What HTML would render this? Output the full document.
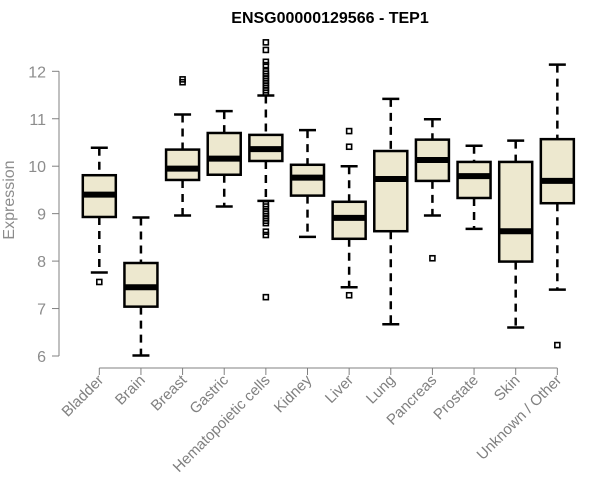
<!DOCTYPE html>
<html><head><meta charset="utf-8"><style>
body{margin:0;background:#fff;width:600px;height:500px;overflow:hidden}
svg{display:block;font-family:"Liberation Sans",Arial,sans-serif}
</style></head><body>
<svg id="chart" width="600" height="500" viewBox="0 0 600 500">
<text x="330" y="23" text-anchor="middle" font-weight="bold" font-size="16">ENSG00000129566 - TEP1</text>
<text transform="translate(14,200) rotate(-90)" text-anchor="middle" font-size="16" fill="#8c8c8c">Expression</text>
<g id="axes"></g><g id="boxes"></g>
</svg>
<script>
const categories=["Bladder","Brain","Breast","Gastric","Hematopoietic cells","Kidney","Liver","Lung","Pancreas","Prostate","Skin","Unknown / Other"];
const whiskerLow=[7.76,6.01,8.96,9.15,9.27,8.51,7.45,6.67,8.96,8.68,6.60,7.40];
const q1=[8.93,7.04,9.71,9.82,10.11,9.38,8.47,8.63,9.69,9.33,7.99,9.22];
const medians=[9.40,7.45,9.95,10.16,10.36,9.76,8.91,9.73,10.13,9.79,8.63,9.69];
const q3=[9.81,7.96,10.35,10.70,10.66,10.03,9.25,10.32,10.56,10.09,10.09,10.57];
const whiskerHigh=[10.39,8.92,11.09,11.16,11.49,10.76,10.00,11.42,10.99,10.43,10.54,12.14];
const outliers=[[7.56],[],[11.83,11.77],[],[12.61,12.45,12.2,12.13,12.0,11.95,11.9,11.85,11.8,11.75,11.7,11.65,11.6,11.55,9.2,9.15,9.05,9.0,8.95,8.9,8.85,8.8,8.62,8.55,7.24],[],[10.74,10.41,7.28],[],[8.06],[],[],[6.23]];
const yTicks=[6,7,8,9,10,11,12];
const NS="http://www.w3.org/2000/svg";
const yS=v=>356-(v-6)*47.45;
const xS=i=>99.3+i*41.64;
function mk(tag,at,parent){const e=document.createElementNS(NS,tag);for(const k in at)e.setAttribute(k,at[k]);parent.appendChild(e);return e;}
const ax=document.getElementById('axes'),bx=document.getElementById('boxes');
const ya=mk('line',{x1:59,x2:59,y1:yS(12),y2:yS(6),stroke:'#808080'},ax);


yTicks.forEach(t=>{
 const l=mk('line',{x1:52,x2:59,y1:yS(t),y2:yS(t),stroke:'#808080'},ax);
 
 
 const tx=mk('text',{x:46,y:yS(t)+6,'text-anchor':'end','font-size':16,fill:'#8c8c8c'},ax);
 tx.textContent=t;
 
 
});
const xa=mk('line',{x1:xS(0),x2:xS(categories.length-1),y1:368,y2:368,stroke:'#808080'},ax);


categories.forEach((c,i)=>{
 const x=xS(i);
 const t=mk('line',{x1:x,x2:x,y1:368,y2:375,stroke:'#808080'},ax);
 
 
 const tx=mk('text',{transform:`translate(${x+5},381) rotate(-45)`,'text-anchor':'end','font-size':15,fill:'#808080'},ax);
 tx.textContent=c;
 
 
 const g=mk('g',{},bx);
 
 
 mk('line',{x1:x,x2:x,y1:yS(whiskerHigh[i]),y2:yS(q3[i]),stroke:'#000','stroke-width':2.5,'stroke-dasharray':'8,6'},g);
 mk('line',{x1:x,x2:x,y1:yS(q1[i]),y2:yS(whiskerLow[i]),stroke:'#000','stroke-width':2.5,'stroke-dasharray':'8,6'},g);
 mk('line',{x1:x-8.5,x2:x+8.5,y1:yS(whiskerHigh[i]),y2:yS(whiskerHigh[i]),stroke:'#000','stroke-width':2.5},g);
 mk('line',{x1:x-8.5,x2:x+8.5,y1:yS(whiskerLow[i]),y2:yS(whiskerLow[i]),stroke:'#000','stroke-width':2.5},g);
 mk('rect',{x:x-16.5,y:yS(q3[i]),width:33,height:yS(q1[i])-yS(q3[i]),fill:'#ede8cf',stroke:'#000','stroke-width':2.5},g);
 mk('line',{x1:x-16.5,x2:x+16.5,y1:yS(medians[i]),y2:yS(medians[i]),stroke:'#000','stroke-width':6},g);
 outliers[i].forEach(v=>{mk('rect',{x:x-2.5,y:yS(v)-2.5,width:5,height:5,fill:'none',stroke:'#000','stroke-width':1.6},g);});
});
</script>
</body></html>
